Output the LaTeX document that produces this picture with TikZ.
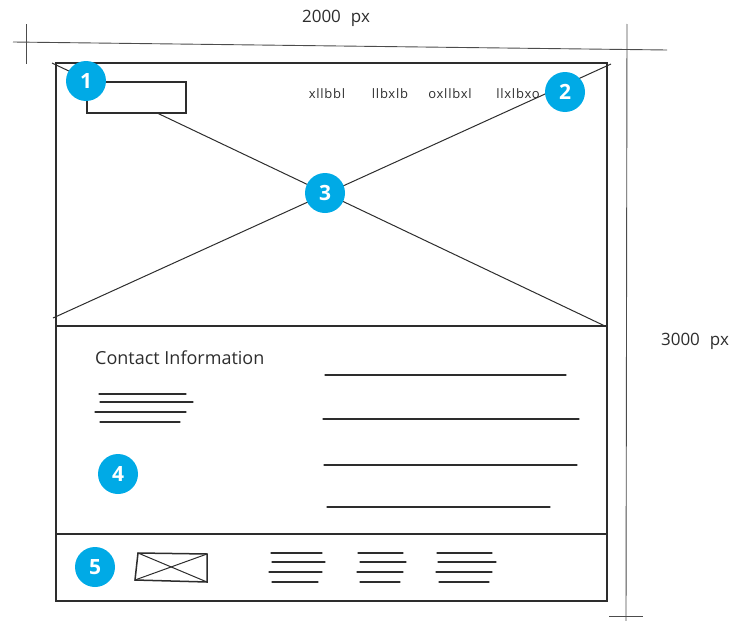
\documentclass[tikz,border=0pt]{standalone}
\usepackage{fontspec}
\setmainfont{Open Sans}
\setsansfont{Open Sans}
\usepackage{tikz}

\definecolor{badgeblue}{RGB}{0,170,230}
\definecolor{pencil}{RGB}{45,45,45}

\tikzset{
	badge/.style={shape=circle, fill=badgeblue, text=white, minimum size=40pt, inner sep=0pt, font=\fontsize{21}{21}\selectfont\bfseries},
	frameline/.style={draw=pencil, line width=1.9pt},
	sketch/.style={draw=pencil, line width=1pt},
	textline/.style={draw=pencil, line width=1.3pt, line cap=round},
	dimline/.style={draw=pencil!85, line width=0.9pt},
	scrawl/.style={text=pencil, inner sep=0pt, font=\fontsize{17}{17}\selectfont},
	navword/.style={text=pencil, inner sep=0pt, font=\fontsize{13}{13}\selectfont\addfontfeature{LetterSpace=6}},
}

\begin{document}
\begin{tikzpicture}[x=1pt, y=-1pt]
	\useasboundingbox (0,0) rectangle (747,621);

	\coordinate (tl) at (56, 63);
	\coordinate (tr) at (607, 63);
	\coordinate (hl) at (56, 326);
	\coordinate (hr) at (607, 326);
	\coordinate (fl) at (56, 534);
	\coordinate (fr) at (607, 534);
	\coordinate (bl) at (56, 601);
	\coordinate (br) at (607, 601);

	\coordinate (xa) at (52, 63);
	\coordinate (xb) at (607, 327);
	\coordinate (xc) at (53, 318);
	\coordinate (xd) at (611, 64);

	\draw[dimline] (13, 42) -- (667, 50);
	\draw[dimline] (26, 24) -- (26, 64);
	\draw[dimline] (627, 24) -- (626, 621);
	\draw[dimline] (609, 616) -- (643, 616);

	\node[scrawl] (width)  at (336, 18)  {2000\hspace{10pt}px};
	\node[scrawl] (height) at (695, 341) {3000\hspace{10pt}px};

	\draw[sketch] (xa) -- (xb);
	\draw[sketch] (xc) -- (xd);

	\draw[frameline] (tl) -- (tr) -- (br) -- (bl) -- cycle;
	\draw[sketch, line width=1.4pt] (hl) -- (hr);
	\draw[sketch, line width=1.4pt] (fl) -- (fr);

	\draw[frameline, fill=white, line width=1.6pt] (87, 82) rectangle (186, 113);

	\node[navword] (nav1) at (327, 94) {xllbbl};
	\node[navword] (nav2) at (390, 94) {llbxlb};
	\node[navword] (nav3) at (450, 94) {oxllbxl};
	\node[navword] (nav4) at (518, 94) {llxlbxo};

	\node[scrawl, font=\fontsize{18}{18}\selectfont, anchor=west] (contact) at (95, 358) {Contact Information};

	\draw[textline] (99, 394) -- (186, 394);
	\draw[textline] (100, 402) -- (193, 402);
	\draw[textline] (95, 412) -- (186, 412);
	\draw[textline] (100, 422) -- (180, 422);

	\draw[textline] (325, 375) -- (566, 375);
	\draw[textline] (323, 419) -- (579, 419);
	\draw[textline] (324, 465) -- (577, 465);
	\draw[textline] (327, 507) -- (550, 507);

	\coordinate (ia) at (138, 553);
	\coordinate (ib) at (207, 554);
	\coordinate (ic) at (207, 582);
	\coordinate (id) at (135, 580);
	\draw[sketch, line width=1.5pt] (ia) -- (ib) -- (ic) -- (id) -- cycle;
	\draw[sketch] (ia) -- (ic);
	\draw[sketch] (ib) -- (id);

	\draw[textline] (271, 553) -- (322, 553);
	\draw[textline] (272, 562) -- (325, 562);
	\draw[textline] (269, 572) -- (322, 572);
	\draw[textline] (272, 582) -- (318, 582);

	\draw[textline] (358, 553) -- (403, 553);
	\draw[textline] (360, 562) -- (406, 562);
	\draw[textline] (357, 572) -- (403, 572);
	\draw[textline] (360, 582) -- (400, 582);

	\draw[textline] (437, 553) -- (492, 553);
	\draw[textline] (438, 562) -- (496, 562);
	\draw[textline] (436, 572) -- (492, 572);
	\draw[textline] (439, 582) -- (489, 582);

	\node[badge] (one)   at (86, 81)   {1};
	\node[badge] (two)   at (565, 92)  {2};
	\node[badge] (three) at (325, 193) {3};
	\node[badge] (four)  at (118, 474) {4};
	\node[badge] (five)  at (95, 567)  {5};

\end{tikzpicture}
\end{document}
